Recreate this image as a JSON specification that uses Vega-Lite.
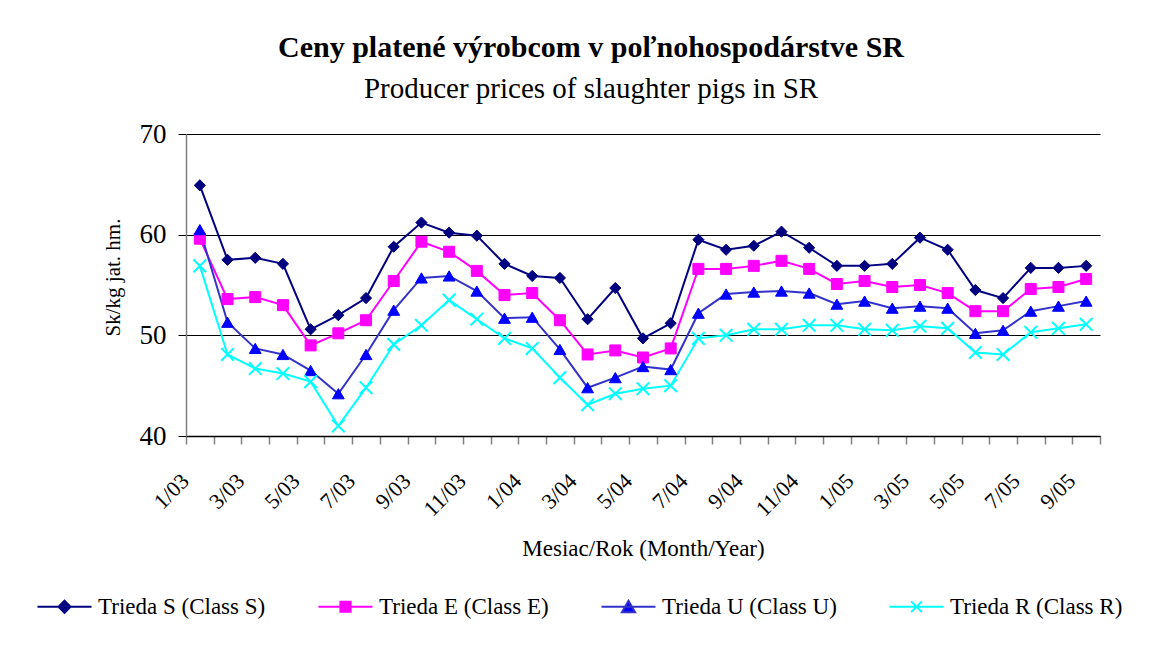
{
  "$schema": "https://vega.github.io/schema/vega-lite/v6.json",
  "width": 914,
  "height": 302,
  "autosize": {"type": "none"},
  "padding": {"left": 186, "top": 134, "right": 54, "bottom": 209},
  "background": "white",
  "config": {"font": "Liberation Serif", "view": {"stroke": null}},
  "title": {
    "text": "Ceny platené výrobcom v poľnohospodárstve SR",
    "subtitle": "Producer prices of slaughter pigs in SR",
    "font": "Liberation Serif",
    "fontSize": 30,
    "fontWeight": "bold",
    "color": "black",
    "subtitleFont": "Liberation Serif",
    "subtitleFontSize": 29,
    "subtitleColor": "black",
    "subtitlePadding": 12,
    "anchor": "middle",
    "dx": -52,
    "offset": 16
  },
  "data": {
    "values": [
      {"m": "1/03", "S": 64.9, "E": 59.6, "U": 60.5, "R": 56.9},
      {"m": "2/03", "S": 57.5, "E": 53.6, "U": 51.3, "R": 48.1},
      {"m": "3/03", "S": 57.7, "E": 53.8, "U": 48.7, "R": 46.7},
      {"m": "4/03", "S": 57.1, "E": 53.0, "U": 48.1, "R": 46.2},
      {"m": "5/03", "S": 50.6, "E": 49.0, "U": 46.5, "R": 45.4},
      {"m": "6/03", "S": 52.0, "E": 50.2, "U": 44.2, "R": 41.0},
      {"m": "7/03", "S": 53.7, "E": 51.5, "U": 48.1, "R": 44.8},
      {"m": "8/03", "S": 58.8, "E": 55.4, "U": 52.5, "R": 49.1},
      {"m": "9/03", "S": 61.2, "E": 59.3, "U": 55.7, "R": 51.0},
      {"m": "10/03", "S": 60.2, "E": 58.3, "U": 55.9, "R": 53.5},
      {"m": "11/03", "S": 59.9, "E": 56.4, "U": 54.4, "R": 51.6},
      {"m": "12/03", "S": 57.1, "E": 54.0, "U": 51.7, "R": 49.7},
      {"m": "1/04", "S": 55.9, "E": 54.2, "U": 51.8, "R": 48.7},
      {"m": "2/04", "S": 55.7, "E": 51.5, "U": 48.6, "R": 45.8},
      {"m": "3/04", "S": 51.6, "E": 48.1, "U": 44.8, "R": 43.1},
      {"m": "4/04", "S": 54.7, "E": 48.5, "U": 45.8, "R": 44.2},
      {"m": "5/04", "S": 49.7, "E": 47.8, "U": 46.9, "R": 44.7},
      {"m": "6/04", "S": 51.2, "E": 48.7, "U": 46.6, "R": 45.0},
      {"m": "7/04", "S": 59.5, "E": 56.6, "U": 52.2, "R": 49.7},
      {"m": "8/04", "S": 58.5, "E": 56.6, "U": 54.1, "R": 50.0},
      {"m": "9/04", "S": 58.9, "E": 56.9, "U": 54.3, "R": 50.6},
      {"m": "10/04", "S": 60.3, "E": 57.4, "U": 54.4, "R": 50.6},
      {"m": "11/04", "S": 58.7, "E": 56.6, "U": 54.2, "R": 51.0},
      {"m": "12/04", "S": 56.9, "E": 55.1, "U": 53.1, "R": 51.0},
      {"m": "1/05", "S": 56.9, "E": 55.4, "U": 53.4, "R": 50.6},
      {"m": "2/05", "S": 57.1, "E": 54.8, "U": 52.7, "R": 50.5},
      {"m": "3/05", "S": 59.7, "E": 55.0, "U": 52.9, "R": 50.9},
      {"m": "4/05", "S": 58.5, "E": 54.2, "U": 52.7, "R": 50.7},
      {"m": "5/05", "S": 54.5, "E": 52.4, "U": 50.2, "R": 48.3},
      {"m": "6/05", "S": 53.7, "E": 52.4, "U": 50.5, "R": 48.1},
      {"m": "7/05", "S": 56.7, "E": 54.6, "U": 52.4, "R": 50.3},
      {"m": "8/05", "S": 56.7, "E": 54.8, "U": 52.9, "R": 50.7},
      {"m": "9/05", "S": 56.9, "E": 55.6, "U": 53.4, "R": 51.1}
    ]
  },
  "transform": [{"fold": ["S", "E", "U", "R"], "as": ["k", "v"]}],
  "encoding": {
    "x": {
      "field": "m",
      "type": "ordinal",
      "sort": null,
      "scale": {"type": "band", "paddingInner": 0, "paddingOuter": 0},
      "axis": {
        "title": "Mesiac/Rok (Month/Year)",
        "titleFont": "Liberation Serif",
        "titleFontSize": 23,
        "titleFontWeight": "normal",
        "titleColor": "black",
        "titlePadding": 18,
        "labelAngle": -45,
        "labelFont": "Liberation Serif",
        "labelFontSize": 22,
        "labelColor": "black",
        "labelPadding": 26,
        "labelOffset": -22,
        "labelOverlap": false,
        "labelExpr": "toNumber(split(datum.value, '/')[0]) % 2 == 1 ? datum.value : ''",
        "tickBand": "extent",
        "tickSize": 8,
        "tickColor": "#808080",
        "tickWidth": 1.5,
        "domainColor": "black",
        "domainWidth": 1.5,
        "grid": false
      }
    },
    "y": {
      "field": "v",
      "type": "quantitative",
      "scale": {"domain": [40, 70], "nice": false, "zero": false},
      "axis": {
        "values": [40, 50, 60, 70],
        "title": "Sk/kg jat. hm.",
        "titleFont": "Liberation Serif",
        "titleFontSize": 21,
        "titleFontWeight": "normal",
        "titleColor": "black",
        "titlePadding": 16,
        "titleY": 143,
        "labelFont": "Liberation Serif",
        "labelFontSize": 27,
        "labelColor": "black",
        "labelPadding": 12,
        "tickSize": 8,
        "tickColor": "black",
        "domainColor": "#808080",
        "domainWidth": 1.5,
        "grid": true,
        "gridColor": "black",
        "gridWidth": 1,
        "gridOpacity": 1
      }
    }
  },
  "layer": [
    {
      "mark": {"type": "line", "strokeWidth": 2},
      "encoding": {
        "color": {
          "field": "k",
          "type": "nominal",
          "scale": {"domain": ["S", "E", "U", "R"], "range": ["#000080", "#FF00FF", "#3333CC", "#00FFFF"]},
          "legend": {
            "orient": "none",
            "legendX": -133,
            "legendY": 461,
            "direction": "horizontal",
            "columns": 4,
            "title": null,
            "labelExpr": "'Trieda ' + datum.label + ' (Class ' + datum.label + ')'",
            "labelFont": "Liberation Serif",
            "labelFontSize": 23,
            "labelColor": "black",
            "labelOffset": 22,
            "labelLimit": 0,
            "columnPadding": 48,
            "symbolSize": 144,
            "symbolStrokeWidth": 2
          }
        }
      }
    },
    {
      "transform": [{"filter": {"field": "k", "equal": "S"}}],
      "mark": {"type": "point", "shape": "diamond", "filled": true, "fill": "#000080", "stroke": "#000080", "strokeWidth": 1, "size": 125, "opacity": 1}
    },
    {
      "transform": [{"filter": {"field": "k", "equal": "E"}}],
      "mark": {"type": "point", "shape": "square", "filled": true, "fill": "#FF00FF", "stroke": "#FF00FF", "strokeWidth": 1, "size": 121, "opacity": 1}
    },
    {
      "transform": [{"filter": {"field": "k", "equal": "U"}}],
      "mark": {"type": "point", "shape": "triangle-up", "filled": true, "fill": "#0000FF", "stroke": "#0000FF", "strokeWidth": 1, "size": 140, "opacity": 1}
    },
    {
      "transform": [{"filter": {"field": "k", "equal": "R"}}],
      "mark": {"type": "point", "shape": "M-1,-1L1,1M-1,1L1,-1", "filled": false, "stroke": "#00FFFF", "strokeWidth": 2, "size": 160, "opacity": 1}
    },
    {
      "mark": {"type": "point", "size": 0, "strokeWidth": 2, "opacity": 1},
      "encoding": {
        "shape": {
          "field": "k",
          "type": "nominal",
          "scale": {"domain": ["S", "E", "U", "R"], "range": ["M-4.5,0L4.5,0M0,-1L1,0L0,1L-1,0Z", "M-4.5,0L4.5,0M-0.85,-0.85L0.85,-0.85L0.85,0.85L-0.85,0.85Z", "M-4.5,0L4.5,0M0,-1L1.1,0.9L-1.1,0.9Z", "M-4.5,0L4.5,0M-0.9,-0.9L0.9,0.9M-0.9,0.9L0.9,-0.9"]},
          "legend": null
        },
        "fill": {
          "field": "k",
          "type": "nominal",
          "scale": {"domain": ["S", "E", "U", "R"], "range": ["#000080", "#FF00FF", "#0000FF", "transparent"]},
          "legend": null
        },
        "stroke": {
          "field": "k",
          "type": "nominal",
          "scale": {"domain": ["S", "E", "U", "R"], "range": ["#000080", "#FF00FF", "#3333CC", "#00FFFF"]},
          "legend": null
        }
      }
    }
  ]
}
